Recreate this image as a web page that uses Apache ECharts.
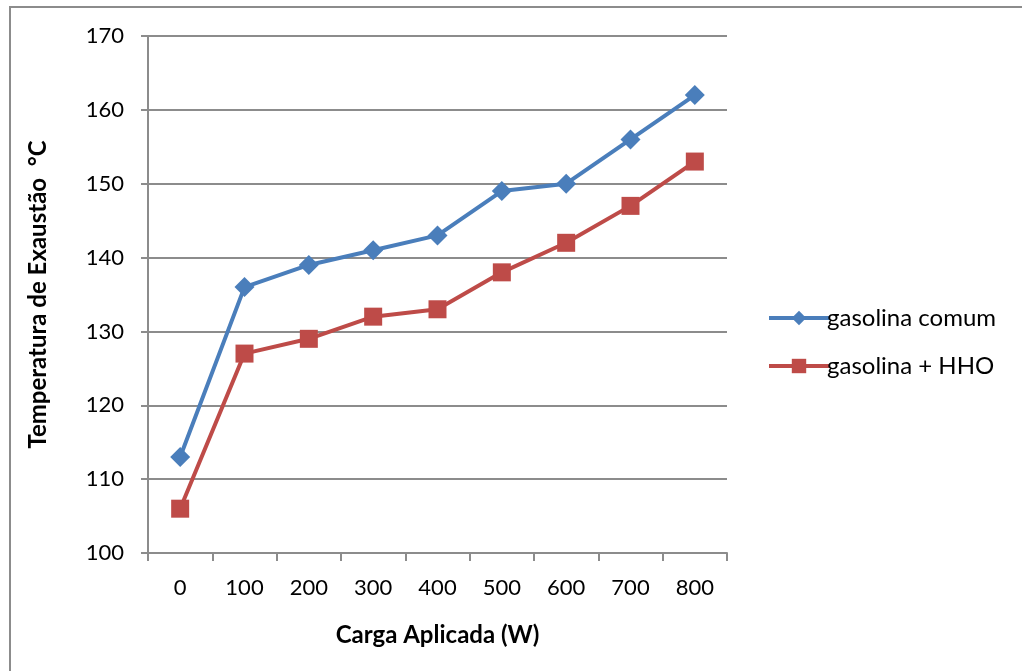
<!DOCTYPE html>
<html><head><meta charset="utf-8">
<script src="https://cdn.jsdelivr.net/npm/echarts@6/dist/echarts.min.js"></script>
<style>html,body{margin:0;padding:0;background:#fff}#c{width:1022px;height:671px;position:relative}
#b{position:absolute;left:9px;top:6px;width:1100px;height:800px;border:2px solid #8c8c8c;box-sizing:border-box;pointer-events:none}</style>
</head><body><div id="c"></div><div id="b"></div>
<script>
const categories = ['0','100','200','300','400','500','600','700','800'];
const gasolinaComum = [113,136,139,141,143,149,150,156,162];
const gasolinaHHO = [106,127,129,132,133,138,142,147,153];
const seriesNames = ['gasolina comum','gasolina + HHO'];
const FONT = 'Lato, "Open Sans", sans-serif';
const chart = echarts.init(document.getElementById('c'));
chart.setOption({
  animation:false,
  backgroundColor:'#fff',
  textStyle:{fontFamily:FONT},
  grid:{left:148,right:295,top:36,bottom:118},
  legend:{
    orient:'vertical', left:762, top:301, itemGap:24, itemWidth:60, itemHeight:18,
    textStyle:{fontFamily:FONT,fontSize:24,color:'#000',padding:[0,0,0,-7]},
    lineStyle:{width:4},
    data:seriesNames
  },
  xAxis:{
    type:'category', data:categories, boundaryGap:true,
    name:'Carga Aplicada (W)', nameLocation:'middle', nameGap:70,
    nameTextStyle:{fontFamily:FONT,fontSize:24,fontWeight:'bold',color:'#000'},
    axisLine:{lineStyle:{color:'#8c8c8c',width:2}},
    axisTick:{show:true,length:8,lineStyle:{color:'#8c8c8c',width:2}},
    axisLabel:{fontFamily:FONT,fontSize:22,color:'#000',margin:24}
  },
  yAxis:{
    type:'value', min:100, max:170, interval:10,
    name:'Temperatura de Exaustão  °C', nameLocation:'middle', nameGap:98,
    nameTextStyle:{fontFamily:FONT,fontSize:24,fontWeight:'bold',color:'#000'},
    axisLine:{show:true,lineStyle:{color:'#8c8c8c',width:2}},
    axisTick:{show:true,length:7,lineStyle:{color:'#8c8c8c',width:2}},
    axisLabel:{fontFamily:FONT,fontSize:22,color:'#000',margin:24},
    splitLine:{lineStyle:{color:'#8c8c8c',width:2}}
  },
  series:[
    {name:seriesNames[0],type:'line',data:gasolinaComum,symbol:'diamond',symbolSize:20,
     lineStyle:{color:'#4A7EBB',width:4},itemStyle:{color:'#4A7EBB'},color:'#4A7EBB'},
    {name:seriesNames[1],type:'line',data:gasolinaHHO,symbol:'rect',symbolSize:18,
     lineStyle:{color:'#BE4B48',width:4},itemStyle:{color:'#BE4B48'},color:'#BE4B48'}
  ]
});
</script></body></html>
